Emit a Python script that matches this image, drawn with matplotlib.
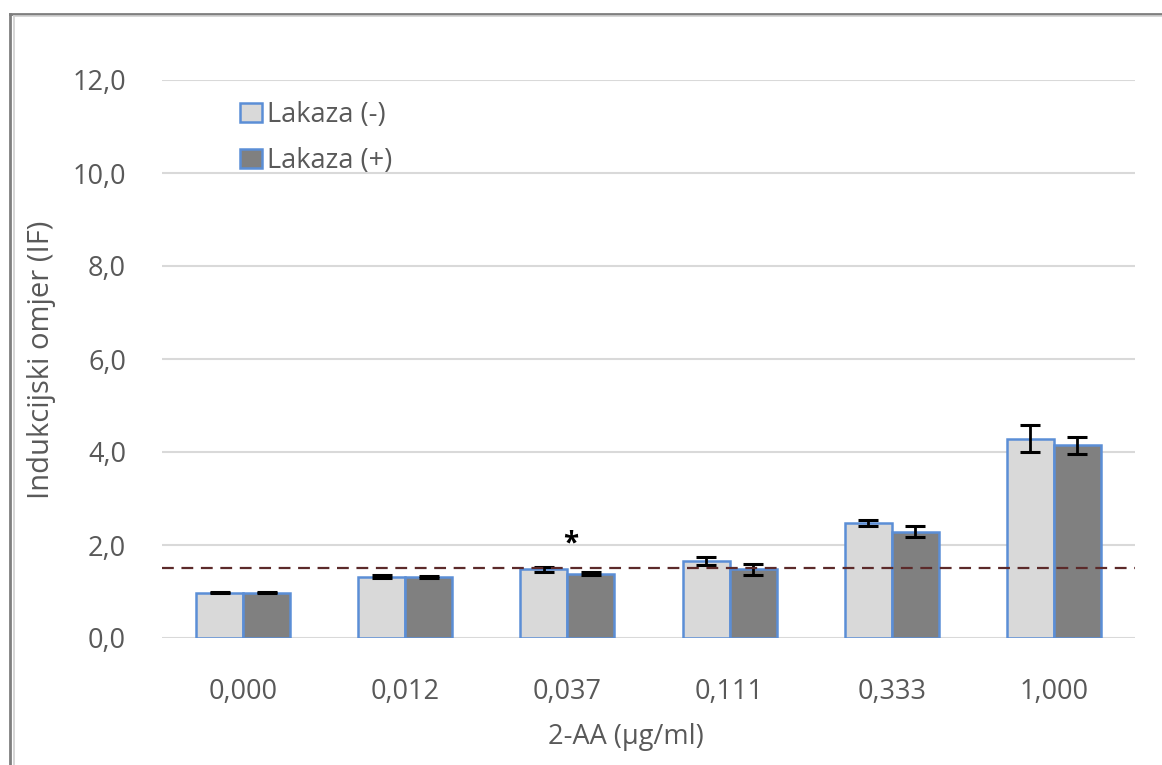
import matplotlib.pyplot as plt
import numpy as np
from matplotlib.lines import Line2D

plt.rcParams['font.family'] = ['Open Sans', 'DejaVu Sans']
plt.rcParams['lines.scale_dashes'] = False

# podaci ocitani sa slike
doze = ['0,000', '0,012', '0,037', '0,111', '0,333', '1,000']
lakaza_minus = [0.97, 1.32, 1.48, 1.66, 2.47, 4.29]
lakaza_minus_sd = [0.01, 0.03, 0.05, 0.09, 0.06, 0.30]
lakaza_plus = [0.97, 1.31, 1.38, 1.48, 2.29, 4.14]
lakaza_plus_sd = [0.01, 0.03, 0.03, 0.12, 0.11, 0.18]
prag = 1.5
y_ticks = [0, 2, 4, 6, 8, 10, 12]

siva_txt = '#595959'
rub = '#5B8ED6'

fig = plt.figure(figsize=(11.62, 7.65), dpi=100)
ax = fig.add_axes([162 / 1162, 1 - 638 / 765, 973 / 1162, 558 / 765])

x = np.arange(len(doze))
w = 0.29
ax.bar(x - w / 2, lakaza_minus, w, color='#D9D9D9', edgecolor=rub, linewidth=1.8,
       label='Lakaza (-)', zorder=3)
ax.bar(x + w / 2, lakaza_plus, w, color='#808080', edgecolor=rub, linewidth=1.8,
       label='Lakaza (+)', zorder=3)
ax.errorbar(x - w / 2, lakaza_minus, yerr=lakaza_minus_sd, fmt='none', ecolor='black',
            elinewidth=2, capsize=7, capthick=2.2, zorder=4)
ax.errorbar(x + w / 2, lakaza_plus, yerr=lakaza_plus_sd, fmt='none', ecolor='black',
            elinewidth=2, capsize=7, capthick=2.2, zorder=4)

ax.axhline(prag, color='#5C2A2A', linewidth=1.6, dashes=(8.5, 5.5), zorder=5)
ax.text(2.02, 1.72, '*', ha='center', va='bottom', fontsize=20, fontweight='bold', color='black')

ax.set_xlim(-0.5, len(doze) - 0.5)
ax.set_ylim(0, 12)
ax.set_yticks(y_ticks)
ax.set_yticklabels([f'{v:.1f}'.replace('.', ',') for v in y_ticks])
ax.set_xticks(x)
ax.set_xticklabels(doze)
ax.yaxis.grid(True, color='#D9D9D9', linewidth=1.5, zorder=0)
ax.set_axisbelow(True)
for s in ax.spines.values():
    s.set_visible(False)
ax.tick_params(axis='both', length=0, labelsize=19.5, labelcolor=siva_txt)
ax.tick_params(axis='y', pad=26)
ax.tick_params(axis='x', pad=29)

fig.text(626 / 1162, 1 - 737 / 765, '2-AA (µg/ml)', ha='center', va='center',
         fontsize=19.5, color=siva_txt)
fig.text(42 / 1162, 1 - 360 / 765, 'Indukcijski omjer (IF)', ha='center', va='center',
         rotation=90, fontsize=21, color=siva_txt)

leg = ax.legend(loc='upper left', bbox_to_anchor=(240 / 1162, 1 - 101 / 765),
                bbox_transform=fig.transFigure, frameon=False, fontsize=19.5,
                handlelength=0.8, handleheight=0.7, handletextpad=0.2,
                labelspacing=0.68, borderpad=0, borderaxespad=0)
for t in leg.get_texts():
    t.set_color(siva_txt)

# okvir grafikona
fig.add_artist(Line2D([9.5 / 1162, 9.5 / 1162], [0, 1 - 13.5 / 765], transform=fig.transFigure,
                      color='#7F7F7F', linewidth=2))
fig.add_artist(Line2D([9.5 / 1162, 1], [1 - 13.5 / 765, 1 - 13.5 / 765], transform=fig.transFigure,
                      color='#7F7F7F', linewidth=2))
fig.add_artist(Line2D([14 / 1162, 14 / 1162], [0, 1 - 16 / 765], transform=fig.transFigure,
                      color='#D0D0D0', linewidth=1.2))
fig.add_artist(Line2D([14 / 1162, 1], [1 - 16 / 765, 1 - 16 / 765], transform=fig.transFigure,
                      color='#D0D0D0', linewidth=1.2))

fig.savefig('out.png', dpi=100)
